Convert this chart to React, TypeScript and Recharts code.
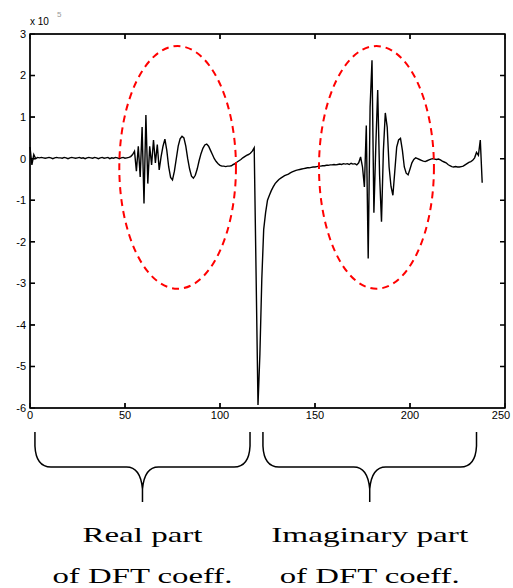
import React from 'react';
import { LineChart, Line, XAxis, YAxis } from 'recharts';

// real part of the DFT coefficients, samples 0..119
const realPart = [
  0.28, -0.15, 0.1, 0.0, 0.03, 0.02, 0.03, 0.02, 0.01, 0.02,
  0.03, 0.02, 0.0, 0.02, 0.03, 0.02, 0.02, 0.01, 0.03, 0.02,
  0.0, 0.02, 0.03, 0.02, 0.01, 0.02, 0.03, 0.01, 0.02, 0.0,
  0.02, 0.03, 0.02, 0.01, 0.03, 0.02, 0.0, 0.02, 0.03, 0.01,
  0.02, 0.03, 0.0, 0.02, 0.01, 0.03, 0.02, 0.0, 0.02, 0.03,
  0.01, 0.02, 0.03, 0.05, 0.1, 0.18, -0.3, 0.3, -0.44, 0.76,
  -1.08, 1.05, -0.6, 0.3, -0.15, 0.45, -0.1, 0.34, -0.27, 0.05,
  0.3, 0.47, 0.2, -0.2, -0.45, -0.51, -0.3, 0.0, 0.3, 0.48,
  0.54, 0.5, 0.3, 0.0, -0.25, -0.42, -0.47, -0.4, -0.25, -0.05,
  0.12, 0.25, 0.33, 0.35, 0.3, 0.2, 0.1, 0.0, -0.07, -0.12,
  -0.16, -0.18, -0.18, -0.19, -0.18, -0.18, -0.17, -0.14, -0.12, -0.08,
  -0.05, -0.02, 0.02, 0.05, 0.08, 0.1, 0.13, 0.18, 0.26, -2.8,
];

// imaginary part, samples 120..238
const imagPart = [
  -5.93, -4.7, -2.9, -1.7, -1.3, -1.0, -0.88, -0.77, -0.68, -0.6,
  -0.55, -0.5, -0.47, -0.44, -0.41, -0.39, -0.37, -0.34, -0.32, -0.3,
  -0.28, -0.27, -0.26, -0.25, -0.24, -0.23, -0.22, -0.22, -0.21, -0.2,
  -0.2, -0.19, -0.18, -0.18, -0.17, -0.17, -0.16, -0.16, -0.15, -0.15,
  -0.14, -0.15, -0.14, -0.13, -0.14, -0.12, -0.13, -0.12, -0.14, -0.11,
  -0.13, -0.12, -0.15, -0.1, 0.04, -0.2, -0.68, 0.8, -2.4, 1.24,
  2.37, -1.3, 0.3, 1.65, -0.4, -1.52, 0.2, 1.1, 0.76, -0.2,
  -0.67, -0.88, -0.3, 0.28, 0.45, 0.49, 0.2, -0.2, -0.35, -0.39,
  -0.25, -0.1, -0.02, 0.02, 0.0, -0.02, -0.04, -0.06, -0.07, -0.05,
  -0.03, -0.01, 0.0, -0.01, -0.02, -0.01, -0.03, -0.06, -0.08, -0.1,
  -0.14, -0.17, -0.19, -0.2, -0.19, -0.2, -0.2, -0.19, -0.18, -0.15,
  -0.12, -0.09, -0.07, -0.04, 0.02, 0.15, 0.08, 0.45, -0.58,
];

const xTicks = [0, 50, 100, 150, 200, 250];
const yTicks = [3, 2, 1, 0, -1, -2, -3, -4, -5, -6];

// dashed circles around the interesting regions (data units)
const highlightRegions = [
  { x1: 47, x2: 108.4, y1: -3.13, y2: 2.71 },
  { x1: 152.1, x2: 212.6, y1: -3.13, y2: 2.71 },
];

// brace spans (data units) with captions
const braces = [
  { from: 2.6, to: 115.8, line1: 'Real part', line2: 'of DFT coeff.', w1: 120, w2: 180 },
  { from: 122.6, to: 235, line1: 'Imaginary part', line2: 'of DFT coeff.', w1: 197, w2: 180 },
];

const data = [...realPart, ...imagPart].map((y, i) => ({ x: i, y }));

const W = 513;
const H = 588;
const PLOT_LEFT = 30;
const PLOT_RIGHT = 505;
const PLOT_TOP = 34;
const PLOT_BOTTOM = 408;
const TICK = 5;
const X_MAX = 250;
const Y_MIN = -6;
const Y_MAX = 3;

// same linear mapping as the chart's axes, used for the annotations
const px = (x: number) => PLOT_LEFT + (x / X_MAX) * (PLOT_RIGHT - PLOT_LEFT);
const py = (y: number) => PLOT_TOP + ((Y_MAX - y) / (Y_MAX - Y_MIN)) * (PLOT_BOTTOM - PLOT_TOP);

const sans = 'Liberation Sans, Arial, sans-serif';
const serif = 'Liberation Serif, Times New Roman, serif';

const NoTick = () => <g />;

// axes are mirrored so tick marks point inwards; labels are pushed back outside
const LeftTick = (p: any) => (
  <text x={p.x - TICK - 4} y={p.y} dy="0.35em" textAnchor="end" fontSize={11} fontFamily={sans} fill="#000">
    {p.payload.value}
  </text>
);

const BottomTick = (p: any) => (
  <text x={p.x} y={p.y + TICK + 3} dy="0.71em" textAnchor="middle" fontSize={11} fontFamily={sans} fill="#000">
    {p.payload.value}
  </text>
);

const bracePath = (a: number, b: number) => {
  const y0 = 432, y1 = 467, y2 = 502;
  const c = (a + b) / 2;
  return [
    `M${a},${y0} L${a},${y0 + 14} Q${a + 1},${y1} ${a + 16},${y1} L${c - 16},${y1} Q${c - 2},${y1} ${c},${y1 + 22} L${c},${y2}`,
    `M${b},${y0} L${b},${y0 + 14} Q${b - 1},${y1} ${b - 16},${y1} L${c + 16},${y1} Q${c + 2},${y1} ${c},${y1 + 22}`,
  ].join(' ');
};

// box + inward ticks on all four sides, as one path
const framePath = [
  `M${PLOT_LEFT},${PLOT_TOP} L${PLOT_RIGHT},${PLOT_TOP} L${PLOT_RIGHT},${PLOT_BOTTOM} L${PLOT_LEFT},${PLOT_BOTTOM} Z`,
  ...xTicks.map((t) => `M${px(t)},${PLOT_BOTTOM} L${px(t)},${PLOT_BOTTOM - TICK} M${px(t)},${PLOT_TOP} L${px(t)},${PLOT_TOP + TICK}`),
  ...yTicks.map((t) => `M${PLOT_LEFT},${py(t)} L${PLOT_LEFT + TICK},${py(t)} M${PLOT_RIGHT},${py(t)} L${PLOT_RIGHT - TICK},${py(t)}`),
].join(' ');

export default function App() {
  return (
    <div style={{ position: 'absolute', left: 0, top: 0, width: W, height: H, background: '#fff' }}>
      <div style={{ position: 'absolute', left: 0, top: 0 }}>
        <LineChart
          width={W}
          height={H}
          data={data}
          margin={{ top: PLOT_TOP, right: W - PLOT_RIGHT, left: PLOT_LEFT, bottom: H - PLOT_BOTTOM }}
        >
          <XAxis
            dataKey="x"
            type="number"
            domain={[0, X_MAX]}
            ticks={xTicks}
            mirror
            height={20}
            tickSize={TICK}
            tickMargin={0}
            tick={BottomTick}
            stroke="#000"
          />
          <XAxis
            xAxisId="top"
            orientation="top"
            mirror
            dataKey="x"
            type="number"
            domain={[0, X_MAX]}
            ticks={xTicks}
            height={20}
            tickSize={TICK}
            tick={NoTick}
            stroke="#000"
          />
          <YAxis
            yAxisId="left"
            type="number"
            domain={[Y_MIN, Y_MAX]}
            ticks={yTicks}
            mirror
            width={30}
            tickSize={TICK}
            tickMargin={0}
            tick={LeftTick}
            stroke="#000"
          />
          <YAxis
            yAxisId="right"
            orientation="right"
            mirror
            type="number"
            domain={[Y_MIN, Y_MAX]}
            ticks={yTicks}
            width={30}
            tickSize={TICK}
            tick={NoTick}
            stroke="#000"
          />
          <Line
            yAxisId="left"
            type="linear"
            dataKey="y"
            stroke="#000"
            strokeWidth={1.4}
            dot={false}
            isAnimationActive={false}
          />
        </LineChart>
      </div>
      <svg width={W} height={H} style={{ position: 'absolute', left: 0, top: 0, pointerEvents: 'none' }}>
        <path d={framePath} fill="none" stroke="#000" strokeWidth={1.5} />
        <text x={PLOT_LEFT} y={25} fontSize={10} fontFamily={sans}>x 10</text>
        <text x={57} y={17} fontSize={8} fill="#999" fontFamily={sans}>5</text>
        {highlightRegions.map((r, i) => (
          <ellipse
            key={i}
            cx={(px(r.x1) + px(r.x2)) / 2}
            cy={(py(r.y1) + py(r.y2)) / 2}
            rx={(px(r.x2) - px(r.x1)) / 2}
            ry={(py(r.y1) - py(r.y2)) / 2}
            fill="none"
            stroke="#ff0000"
            strokeWidth={2}
            strokeDasharray="7 5"
          />
        ))}
        {braces.map((b, i) => {
          const a = px(b.from);
          const e = px(b.to);
          const c = (a + e) / 2;
          return (
            <g key={i}>
              <path d={bracePath(a, e)} fill="none" stroke="#000" strokeWidth={1.5} />
              <text x={c - b.w1 / 2} y={542} fontSize={22} fontFamily={serif} textLength={b.w1} lengthAdjust="spacingAndGlyphs">
                {b.line1}
              </text>
              <text x={c - b.w2 / 2} y={583} fontSize={22} fontFamily={serif} textLength={b.w2} lengthAdjust="spacingAndGlyphs">
                {b.line2}
              </text>
            </g>
          );
        })}
      </svg>
    </div>
  );
}
